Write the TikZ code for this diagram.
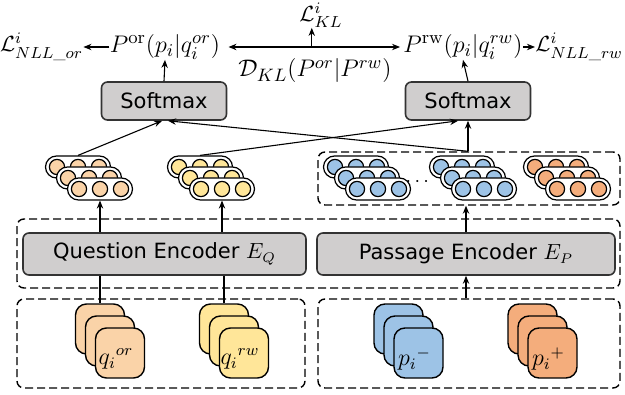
\documentclass[tikz,border=0pt]{standalone}
\usepackage{fontspec}
\setsansfont{DejaVu Sans}
\usepackage{amsmath}
\usetikzlibrary{positioning}
\usetikzlibrary{fit}
\usetikzlibrary{calc}
\usetikzlibrary{arrows.meta}

\definecolor{qorfill}{HTML}{FAD3A8}
\definecolor{qrwfill}{HTML}{FFE699}
\definecolor{negfill}{HTML}{9DC3E6}
\definecolor{posfill}{HTML}{F4AD7C}
\definecolor{encfill}{HTML}{D0CECE}

% three stacked rows of cells, back row first
\newcommand{\vecstack}[4]{%
  \foreach \k in {0,1,2} {
    \node (#1\k) [capsule] at ({#2+11*\k},{#3+11*\k}) {};
    \foreach \d in {-21,0,21} \node [cell, fill=#4] at ({#2+11*\k+\d},{#3+11*\k}) {};
  }}
% three stacked cards, label on the front one
\newcommand{\docstack}[5]{%
  \node (#10) [card, fill=#4] at (#2,#3) {};
  \node (#11) [card, fill=#4] at ({#2+10},{#3+12}) {};
  \node (#12) [card, fill=#4] at ({#2+20},{#3+24}) {};
  \node (#1txt) [ctext] at ([shift={(-4,6)}]#12.center) {#5};
}

\begin{document}
\begin{tikzpicture}[x=0.5pt, y=-0.5pt, >={Stealth[length=4pt,width=3.2pt]},
  every node/.style={inner sep=0pt},
  link/.style={line width=0.55pt},
  gbox/.style={draw=black!80, fill=encfill, rounded corners=3pt, line width=0.8pt, font=\sffamily\fontsize{10.5}{12}\selectfont},
  dbox/.style={draw, dash pattern=on 4pt off 2pt, rounded corners=3.5pt, line width=0.7pt, inner sep=0pt},
  capsule/.style={draw, fill=white, rounded corners=5.5pt, minimum width=32.5pt, minimum height=11pt, line width=0.6pt},
  cell/.style={draw, circle, minimum size=7.6pt, line width=0.6pt},
  card/.style={draw, rounded corners=5.5pt, minimum width=24.5pt, minimum height=25pt, line width=0.7pt},
  ctext/.style={font=\fontsize{12}{14}\selectfont},
  mtext/.style={font=\fontsize{13}{15}\selectfont},
  ltext/.style={font=\fontsize{11}{13}\selectfont}]
\useasboundingbox (0,0) rectangle (625,395);

% dashed groups
\node (encbox) [dbox, fit={(17,219) (620,288)}] {};
\node (qbox) [dbox, fit={(17,299) (305,388)}] {};
\node (pbox) [dbox, fit={(318,299) (620,388)}] {};
\node (vecbox) [dbox, fit={(318,152) (620,205)}] {};

% encoders and softmax
\node (qenc) [gbox, minimum width=141.5pt, minimum height=21pt] at (164.5,254) {Question Encoder $E_Q$};
\node (penc) [gbox, minimum width=149pt, minimum height=21pt] at (466,254) {Passage Encoder $E_P$};
\node (softl) [gbox, minimum width=62.5pt, minimum height=19pt] at (164,101) {Softmax};
\node (softr) [gbox, minimum width=62.5pt, minimum height=19pt] at (468,101) {Softmax};

% representations
\vecstack{qorvec}{78}{167}{qorfill}
\vecstack{qrwvec}{200}{167}{qrwfill}
\vecstack{negvec}{356}{167}{negfill}
\node (dots) at (419,182) {$\cdots$};
\vecstack{negvecb}{462}{167}{negfill}
\vecstack{posvec}{556}{167}{posfill}

% inputs
\docstack{qor}{100}{329}{qorfill}{${q_i}^{or}$}
\docstack{qrw}{224}{329}{qrwfill}{${q_i}^{rw}$}
\docstack{neg}{398.5}{329}{negfill}{${p_i}^{-}$}
\docstack{pos}{532.5}{329}{posfill}{${p_i}^{+}$}

% outputs
\node (porl) [mtext] at (165,47) {$P^{\mathrm{or}}(p_i|q_i^{or})$};
\node (prw) [mtext] at (463,47) {$P^{\mathrm{rw}}(p_i|q_i^{rw})$};
\node (lnllor) [ltext, left=13pt of porl] {$\mathcal{L}^i_{NLL\_or}$};
\node (lnllrw) [ltext, right=6pt of prw] {$\mathcal{L}^i_{NLL\_rw}$};
\node (lkl) [ltext] at (321,15) {$\mathcal{L}^i_{KL}$};
\node (dkl) [mtext] at (315,71) {$\mathcal{D}_{KL}(P^{or}|P^{rw})$};
\coordinate (klmid) at ($(porl.east)!0.5!(prw.west)$);

% connectors
\begin{scope}[link]
\draw (qor0.north) -- (qor0.north |- qenc.south);
\draw (qrw0.north) -- (qrw0.north |- qenc.south);
\draw[->] (penc.south |- pbox.north) -- (penc.south);
\draw[->] (qorvec2.south |- qenc.north) -- (qorvec2.south);
\draw[->] (qrwvec2.south |- qenc.north) -- (qrwvec2.south);
\draw[->] (penc.north) -- (penc.north |- vecbox.south);
\draw[->] (qorvec0.north) -- ([xshift=-1pt]softl.south);
\draw[->] (softr.south |- vecbox.north) -- ([xshift=2pt]softl.south);
\draw[->] (softr.south |- vecbox.north) -- (softr.south);
\draw[->] (qrwvec0.north) -- ([xshift=-5pt]softr.south);
\draw[->] (softl.north) -- (porl.south);
\draw[->] (softr.north) -- (prw.south);
\draw[->] (porl.west) -- (porl.west -| lnllor.east);
\draw[->] (prw.east) -- (prw.east -| lnllrw.west);
\draw[<->, shorten <=4pt, shorten >=1.5pt] (porl.east) -- (prw.west);
\draw[->] (klmid) -- (klmid |- lkl.south);
\end{scope}
\end{tikzpicture}
\end{document}
